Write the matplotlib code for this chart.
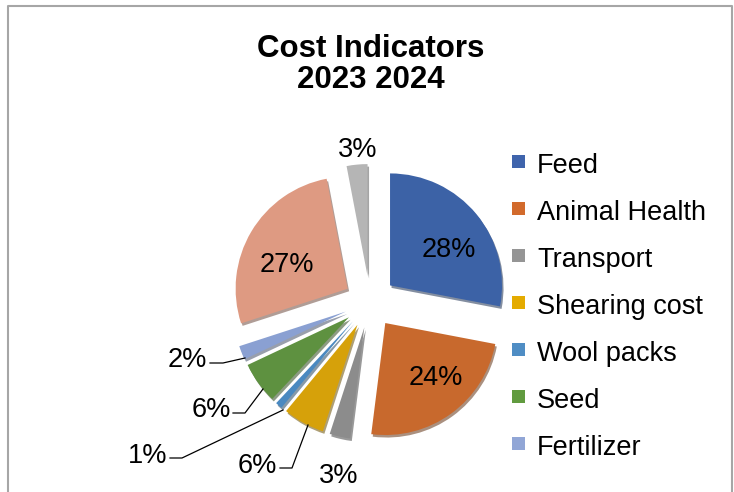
import matplotlib
matplotlib.use("Agg")
import matplotlib.pyplot as plt
from matplotlib.patches import Rectangle
from matplotlib.colors import to_rgb

W, H = 734, 492

# ---- data ----
values = [28, 24, 3, 6, 1, 6, 2, 27, 3]
legend_labels = ["Feed", "Animal Health", "Transport", "Shearing cost",
                 "Wool packs", "Seed", "Fertilizer"]
slice_colors = ["#3C62A6", "#C8692D", "#8C8C8C", "#D6A10A", "#4A89C0",
                "#5E9140", "#8AA0D2", "#DE9A82", "#B5B5B5"]
legend_colors = ["#3F64AC", "#D26A2C", "#959595", "#E4AB00", "#4F8DC4",
                 "#619B3F", "#91A6D6"]
title_lines = ["Cost Indicators", "2023 2024"]

FONT = "Liberation Sans"

fig = plt.figure(figsize=(W / 100, H / 100), dpi=100)
ax = fig.add_axes([0, 0, 1, 1])


def P(x, y):
    """pixel (y down) -> data coords (y up)"""
    return x, H - y


cx, cy = P(370, 302)
R = 112
explode = [26] * len(values)

# soft shadow under the slices (3D look)
shadow_cols = [tuple(c * 0.5 for c in to_rgb(col)) for col in slice_colors]
ax.pie(values, colors=shadow_cols, explode=explode, radius=R,
       center=(cx + 1.5, cy - 2.5), startangle=90, counterclock=False,
       wedgeprops=dict(linewidth=0, zorder=1, alpha=0.55))
ax.pie(values, colors=slice_colors, explode=explode, radius=R,
       center=(cx, cy), startangle=90, counterclock=False,
       wedgeprops=dict(linewidth=0, zorder=2))

ax.set_xlim(0, W)
ax.set_ylim(0, H)
ax.set_aspect("equal")
ax.axis("off")

# ---- chart border ----
bx = [8, 8, 732, 732]
by = [-5, H - 6, H - 6, -5]
ax.plot(bx, by, color="#A6A6A6", lw=1.5, zorder=0, clip_on=False)

# ---- title ----
tx = 371
for line, base in zip(title_lines, [57, 88]):
    ax.text(*P(tx, base), line, ha="center", va="baseline",
            fontsize=22.5, fontweight="bold", family=FONT, color="black")

# ---- percentage labels ----
label_pos = [  # (center x, baseline y) in pixels for each slice
    (449, 257), (436, 385), (339, 483), (257, 473), (148, 463),
    (211, 417), (187, 367), (287, 272), (358, 157)]
for v, (x, y) in zip(values, label_pos):
    ax.text(*P(x, y), f"{v}%", ha="center", va="baseline",
            fontsize=19.5, family=FONT, color="black", zorder=5)

# ---- leader lines ----
leaders = [
    [(280, 468), (292, 468), (308, 425)],   # shearing 6%
    [(170, 458), (182, 458), (283, 410)],   # wool packs 1%
    [(233, 413), (245, 413), (263, 389)],   # seed 6%
    [(210, 363), (223, 363), (245, 358)],   # fertilizer 2%
]
for pts in leaders:
    xs = [p[0] for p in pts]
    ys = [H - p[1] for p in pts]
    ax.plot(xs, ys, color="black", lw=0.9, zorder=4)

# ---- legend ----
for i, (lab, col) in enumerate(zip(legend_labels, legend_colors)):
    top = 155 + 47 * i
    ax.add_patch(Rectangle(P(512, top + 13), 13, 13, facecolor=col,
                           edgecolor="none", zorder=3))
    ax.text(*P(537, 173 + 47 * i), lab, ha="left", va="baseline",
            fontsize=19.5, family=FONT, color="black")

fig.savefig("out.png", dpi=100)
